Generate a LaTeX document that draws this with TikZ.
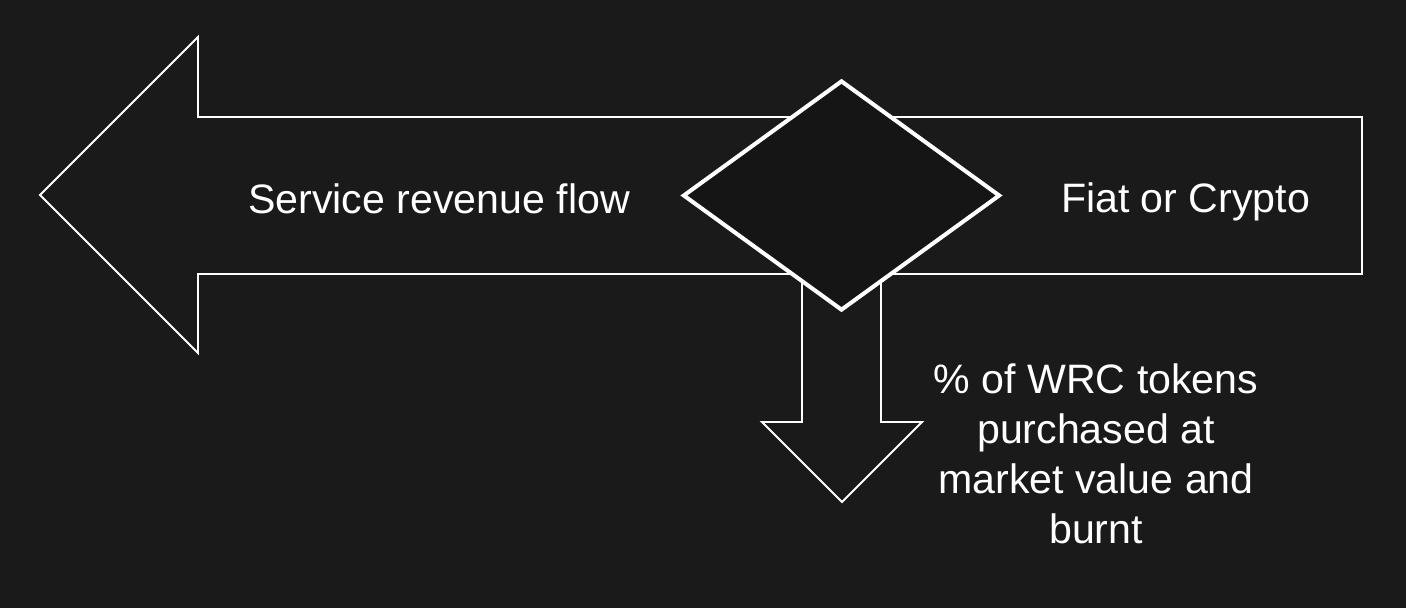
\documentclass[tikz,border=0pt]{standalone}
\usepackage{fontspec}
\setmainfont{Liberation Sans}
\usetikzlibrary{shapes, calc, positioning}
\definecolor{fondo}{HTML}{1A1A1A}
\definecolor{fondorombo}{HTML}{151515}
\tikzset{
	every node/.style={
		font=\fontsize{23.4}{28.5}\selectfont,
		text=white
	},
	flecha/.style={
		draw=white,
		line width=1.1pt,
		fill=fondo
	},
	rombo/.style={
		shape=diamond,
		draw=white,
		line width=2.3pt,
		fill=fondorombo,
		minimum width=317*0.02cm,
		minimum height=230*0.02cm,
		inner sep=0pt
	},
	etiqueta/.style={
		align=center,
		inner sep=0pt
	}
}

\begin{document}
\begin{tikzpicture}[x=0.02cm, y=-0.02cm]
	
	\fill[fondo] (0,0) rectangle (1406,608);
	
	% flecha grande hacia la izquierda
	\draw[flecha] (40,195) -- (198,37) -- (198,117) -- (1362,117)
		-- (1362,274) -- (198,274) -- (198,353) -- cycle;
	
	% flecha hacia abajo
	\draw[flecha] (802,255) -- (802,422) -- (762,422) -- (842,502)
		-- (922,422) -- (881,422) -- (881,255) -- cycle;
	
	\node[rombo] (decision) at (841.5,195.5) {};
	
	\node[etiqueta, anchor=base] (servicio) at (439,213) {Service revenue flow};
	\node[etiqueta, anchor=base] (fiat) at (1185.5,212) {Fiat or Crypto};
	\node[etiqueta, anchor=north] (tokens) at (1096,363)
		{\% of WRC tokens\\purchased at\\market value and\\burnt};
	
\end{tikzpicture}
\end{document}
